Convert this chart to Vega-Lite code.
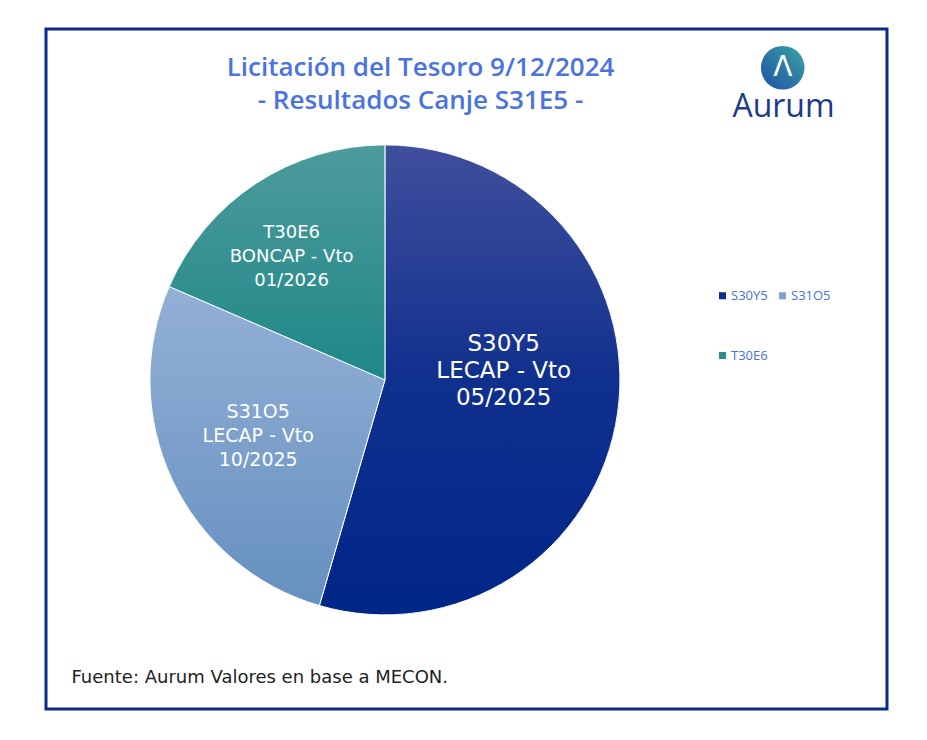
{
  "$schema": "https://vega.github.io/schema/vega-lite/v6.json",
  "width": 927,
  "height": 740,
  "autosize": {"type": "fit", "contains": "padding"},
  "padding": {"left": 46, "top": 29, "right": 40, "bottom": 31},
  "background": "white",
  "config": {
    "view": {"stroke": "#0b2a8a", "strokeWidth": 3},
    "font": "DejaVu Sans"
  },
  "title": {
    "text": ["Licitación del Tesoro 9/12/2024", "- Resultados Canje S31E5 -"],
    "anchor": "middle",
    "frame": "group",
    "orient": "top",
    "offset": 0,
    "dx": -46,
    "dy": 85,
    "fontSize": 26,
    "fontWeight": 600,
    "lineHeight": 33,
    "color": "#4a73e0",
    "font": "Open Sans"
  },
  "data": {
    "values": [
      {"name": "S30Y5", "order": 1, "value": 54.5, "label": "S30Y5\nLECAP - Vto\n05/2025"},
      {"name": "S31O5", "order": 2, "value": 27.0, "label": "S31O5\nLECAP - Vto\n10/2025"},
      {"name": "T30E6", "order": 3, "value": 18.5, "label": "T30E6\nBONCAP - Vto\n01/2026"}
    ]
  },
  "encoding": {
    "x": {
      "datum": 0.403, "type": "quantitative",
      "scale": {"domain": [0, 1]},
      "axis": {
        "orient": "bottom", "labels": false, "ticks": false, "domain": false, "grid": false,
        "title": "Fuente: Aurum Valores en base a MECON.",
        "titleAnchor": "start", "titleAlign": "left", "titleBaseline": "middle",
        "titleX": 25, "titleY": -32,
        "titleFontSize": 18, "titleFontWeight": "normal", "titleColor": "#222222", "titleFont": "DejaVu Sans"
      }
    },
    "y": {
      "datum": 0.484, "type": "quantitative",
      "scale": {"domain": [0, 1]},
      "axis": {
        "orient": "right", "labels": false, "ticks": false, "domain": false, "grid": false,
        "title": "Aurum",
        "titleAngle": 0, "titleAlign": "center", "titleBaseline": "middle",
        "titleX": -104, "titleY": 77,
        "titleFontSize": 32, "titleFontWeight": "normal", "titleColor": "#1b3a8c", "titleFont": "Open Sans"
      }
    }
  },
  "layer": [
    {
      "mark": {"type": "arc", "outerRadius": 235},
      "encoding": {
        "theta": {"field": "value", "type": "quantitative", "stack": true},
        "order": {"field": "order", "type": "quantitative"},
        "color": {
          "field": "name", "type": "nominal",
          "scale": {"domain": ["S30Y5", "S31O5", "T30E6"], "range": ["#0c2d8c", "#7fa3d0", "#2b8f8f"]},
          "legend": {
            "title": null,
            "orient": "none",
            "legendX": 670,
            "legendY": 260,
            "direction": "horizontal",
            "columns": 2,
            "columnPadding": 8,
            "rowPadding": 46,
            "symbolType": "square",
            "symbolSize": 50,
            "symbolStrokeWidth": 0,
            "labelFontSize": 13,
            "labelColor": "#4a6ee0",
            "labelFont": "Open Sans",
            "labelOffset": 2
          }
        }
      }
    },
    {
      "mark": {"type": "arc", "outerRadius": 235, "stroke": "white", "strokeWidth": 1},
      "encoding": {
        "theta": {"field": "value", "type": "quantitative", "stack": true},
        "order": {"field": "order", "type": "quantitative"},
        "detail": {"field": "name", "type": "nominal"},
        "fill": {
          "condition": [
            {"test": "datum.name === 'S30Y5'", "value": {"gradient": "linear", "x1": 0, "y1": 0, "x2": 0, "y2": 1, "stops": [{"offset": 0, "color": "#404f9c"}, {"offset": 0.5, "color": "#10308e"}, {"offset": 1, "color": "#002688"}]}},
            {"test": "datum.name === 'S31O5'", "value": {"gradient": "linear", "x1": 0, "y1": 0, "x2": 0, "y2": 1, "stops": [{"offset": 0, "color": "#93b0d6"}, {"offset": 1, "color": "#6690c0"}]}}
          ],
          "value": {"gradient": "linear", "x1": 0, "y1": 0, "x2": 0, "y2": 1, "stops": [{"offset": 0, "color": "#4e9b9c"}, {"offset": 1, "color": "#1f8787"}]}
        }
      }
    },
    {
      "mark": {"type": "text", "radius": 120, "dy": -53, "lineBreak": "\n", "fontSize": 23, "color": "white", "font": "DejaVu Sans", "lineHeight": 27},
      "encoding": {
        "theta": {"field": "value", "type": "quantitative", "stack": true},
        "order": {"field": "order", "type": "quantitative"},
        "detail": {"field": "name", "type": "nominal"},
        "text": {"condition": {"test": "datum.name === 'S30Y5'", "field": "label"}, "value": ""}
      }
    },
    {
      "mark": {"type": "text", "radius": 140, "dy": -27, "lineBreak": "\n", "fontSize": 19, "color": "white", "font": "DejaVu Sans", "lineHeight": 24},
      "encoding": {
        "theta": {"field": "value", "type": "quantitative", "stack": true},
        "order": {"field": "order", "type": "quantitative"},
        "detail": {"field": "name", "type": "nominal"},
        "text": {"condition": {"test": "datum.name === 'S31O5'", "field": "label"}, "value": ""}
      }
    },
    {
      "mark": {"type": "text", "radius": 170, "dy": -5, "lineBreak": "\n", "fontSize": 18, "color": "white", "font": "DejaVu Sans", "lineHeight": 24},
      "encoding": {
        "theta": {"field": "value", "type": "quantitative", "stack": true},
        "order": {"field": "order", "type": "quantitative"},
        "detail": {"field": "name", "type": "nominal"},
        "text": {"condition": {"test": "datum.name === 'T30E6'", "field": "label"}, "value": ""}
      }
    },
    {
      "data": {"values": [{"item": "logo"}]},
      "mark": {"type": "point", "filled": true, "shape": "circle", "size": 1900, "opacity": 1,
        "fill": {"gradient": "linear", "x1": 0, "y1": 1, "x2": 1, "y2": 0, "stops": [{"offset": 0, "color": "#1f4fa8"}, {"offset": 1, "color": "#3aa5a0"}]}},
      "encoding": {
        "x": {"datum": 0.876, "type": "quantitative"},
        "y": {"datum": 0.943, "type": "quantitative"}
      }
    },
    {
      "data": {"values": [{"item": "logo"}]},
      "mark": {"type": "text", "text": "Λ", "fontSize": 28, "color": "white", "font": "DejaVu Sans", "baseline": "middle", "align": "center"},
      "encoding": {
        "x": {"datum": 0.876, "type": "quantitative"},
        "y": {"datum": 0.943, "type": "quantitative"}
      }
    }
  ]
}
